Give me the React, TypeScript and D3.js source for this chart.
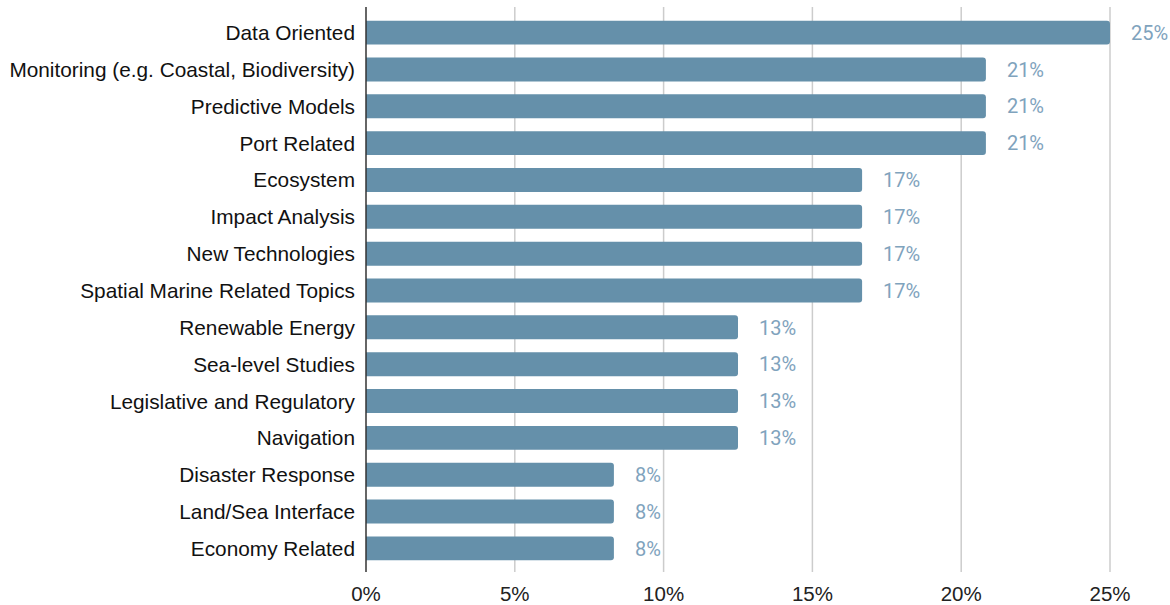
import React from "react";
import * as d3 from "d3";

const categories = [
  "Data Oriented",
  "Monitoring (e.g. Coastal, Biodiversity)",
  "Predictive Models",
  "Port Related",
  "Ecosystem",
  "Impact Analysis",
  "New Technologies",
  "Spatial Marine Related Topics",
  "Renewable Energy",
  "Sea-level Studies",
  "Legislative and Regulatory",
  "Navigation",
  "Disaster Response",
  "Land/Sea Interface",
  "Economy Related",
];
const values = [
  0.25, 0.2083, 0.2083, 0.2083, 0.1667, 0.1667, 0.1667, 0.1667, 0.125, 0.125,
  0.125, 0.125, 0.0833, 0.0833, 0.0833,
];
const ticks = [0, 0.05, 0.1, 0.15, 0.2, 0.25];

export default function App() {
  const W = 1170, H = 605;
  const x = d3.scaleLinear().domain([0, 0.25]).range([366, 1110]);
  const y = d3.scaleBand().domain(categories).range([14, 567]).paddingInner(0.35).paddingOuter(0.18);
  const bw = y.bandwidth();
  return (
    <svg width={W} height={H} style={{ position: "absolute", left: 0, top: 0, background: "#fff" }}>
      {ticks.map((t) => (
        <g key={t}>
          {t > 0 && <line x1={x(t)} x2={x(t)} y1={7} y2={572} stroke="#cccccc" strokeWidth={1.5} />}
          <text x={x(t)} y={601} textAnchor="middle" fontFamily="Liberation Sans, Arial, sans-serif" fontSize={20.5} fill="#222">
            {`${Math.round(t * 100)}%`}
          </text>
        </g>
      ))}
      {categories.map((c, i) => {
        const yy = y(c)!;
        return (
          <g key={c}>
            <path
              d={(() => {
                const x0 = x(0), x1 = x(values[i]), r = 3;
                return `M${x0},${yy}H${x1 - r}Q${x1},${yy} ${x1},${yy + r}V${yy + bw - r}Q${x1},${yy + bw} ${x1 - r},${yy + bw}H${x0}Z`;
              })()}
              fill="#6590aa"
            />
            <text x={355} y={yy + bw / 2} dy="0.36em" textAnchor="end" fontFamily="Liberation Sans, Arial, sans-serif" fontSize={20.8} fill="#111">
              {c}
            </text>
            <text x={x(values[i]) + 21} y={yy + bw / 2} dy="0.36em" fontFamily="Roboto, sans-serif" fontSize={20} fill="#7fa3bd">
              {`${Math.round(values[i] * 100)}%`}
            </text>
          </g>
        );
      })}
      <line x1={x(0)} x2={x(0)} y1={7} y2={572} stroke="#333" strokeWidth={1.5} />
    </svg>
  );
}
